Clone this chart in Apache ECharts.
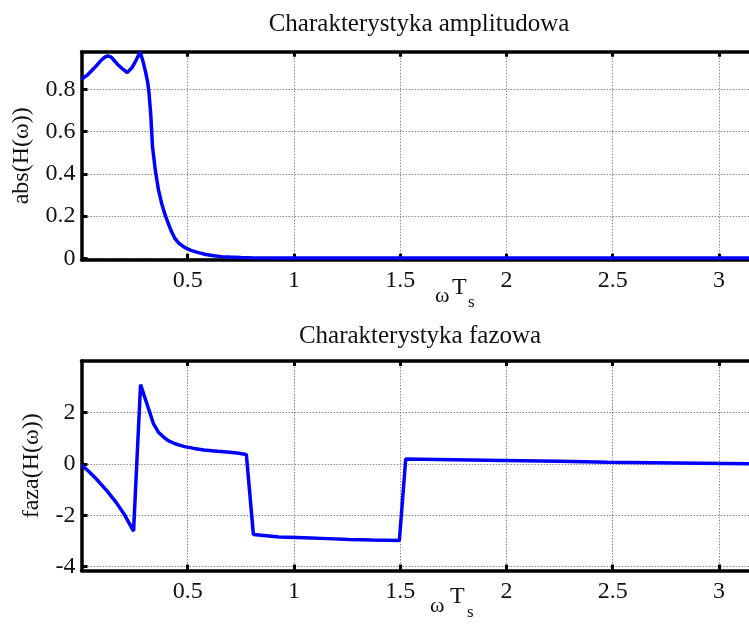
<!DOCTYPE html>
<html><head><meta charset="utf-8">
<script src="https://cdn.jsdelivr.net/npm/echarts@6/dist/echarts.min.js"></script>
<style>html,body{margin:0;padding:0;background:#fff}#c{width:749px;height:626px}</style>
</head><body><div id="c"></div>
<script>
// Amplitude characteristic |H(w)|
const ampW = [0, 0.03, 0.062, 0.09, 0.11, 0.123, 0.14, 0.155, 0.169, 0.195, 0.215, 0.238, 0.258, 0.276, 0.29, 0.302, 0.312, 0.318, 0.326, 0.334, 0.347, 0.362, 0.377, 0.392, 0.408, 0.423, 0.439, 0.46, 0.485, 0.515, 0.546, 0.585, 0.623, 0.66, 0.70, 0.75, 0.8, 0.9, 1.0, 1.2, 1.5, 2.0, 2.5, 3.1416];
const ampV = [0.847, 0.87, 0.903, 0.935, 0.952, 0.958, 0.952, 0.935, 0.919, 0.895, 0.879, 0.903, 0.94, 0.977, 0.93, 0.88, 0.83, 0.78, 0.68, 0.53, 0.42, 0.325, 0.261, 0.21, 0.166, 0.128, 0.095, 0.07, 0.052, 0.038, 0.028, 0.018, 0.012, 0.008, 0.006, 0.004, 0.003, 0.002, 0.002, 0.002, 0.001, 0.001, 0.001, 0.001];
// Phase characteristic
const phW = [0, 0.035, 0.071, 0.12, 0.163, 0.2, 0.245, 0.278, 0.3, 0.32, 0.339, 0.362, 0.385, 0.408, 0.44, 0.485, 0.53, 0.576, 0.64, 0.699, 0.74, 0.776, 0.809, 0.87, 0.929, 1.05, 1.159, 1.26, 1.369, 1.496, 1.526, 1.75, 1.986, 2.25, 2.476, 2.8, 3.1416];
const phV = [-0.05, -0.3, -0.6, -1.05, -1.5, -1.95, -2.62, 3.08, 2.53, 2.03, 1.55, 1.23, 1.05, 0.9, 0.78, 0.67, 0.6, 0.54, 0.49, 0.45, 0.41, 0.36, -2.75, -2.8, -2.85, -2.88, -2.91, -2.94, -2.96, -2.98, 0.19, 0.16, 0.13, 0.1, 0.06, 0.03, 0.0];

const xTicks = [0.5, 1, 1.5, 2, 2.5, 3];
const ampTicks = [0, 0.2, 0.4, 0.6, 0.8];
const phTicks = [-4, -2, 0, 2];
const titles = ['Charakterystyka amplitudowa', 'Charakterystyka fazowa'];
const yNames = ['abs(H(\u03c9))', 'faza(H(\u03c9))'];

const FONT = 'Liberation Serif';
const black = '#000';
const gridStyle = { show: true, lineStyle: { color: '#8a8a8a', width: 1, type: [1.5, 1.5] } };
const lineAxis = { show: true, onZero: false, lineStyle: { color: black, width: 3.5 } };

function xAxisBottom(gi) {
  return {
    type: 'value', gridIndex: gi, min: 0, max: Math.PI, position: 'bottom',
    axisLine: lineAxis,
    axisTick: { show: true, inside: true, length: 6, lineStyle: { color: black, width: 3 }, customValues: xTicks },
    axisLabel: { customValues: xTicks, fontFamily: FONT, fontSize: 24, color: '#111', margin: 9 },
    splitLine: gridStyle
  };
}
function xAxisTop(gi) {
  return {
    type: 'value', gridIndex: gi, min: 0, max: Math.PI, position: 'top',
    axisLine: lineAxis,
    axisTick: { show: true, inside: true, length: 5, lineStyle: { color: black, width: 3 }, customValues: xTicks },
    axisLabel: { show: false },
    splitLine: { show: false }
  };
}
function yAxis(gi, min, max, ticks, name, gap) {
  return {
    type: 'value', gridIndex: gi, min: min, max: max,
    name: name, nameLocation: 'middle', nameGap: gap,
    nameTextStyle: { fontFamily: FONT, fontSize: 24, color: '#111' },
    axisLine: lineAxis,
    axisTick: { show: true, inside: true, length: 6, lineStyle: { color: black, width: 3 }, customValues: ticks },
    axisLabel: { customValues: ticks, fontFamily: FONT, fontSize: 24, color: '#111', margin: 6 },
    splitLine: gridStyle
  };
}

const chart = echarts.init(document.getElementById('c'), null, { renderer: 'canvas' });
chart.setOption({
  animation: false,
  backgroundColor: '#fff',
  grid: [
    { left: 81.5, top: 51.7, width: 683.6, height: 208.1 },
    { left: 81.5, top: 361, width: 683.6, height: 209.5 }
  ],
  xAxis: [xAxisBottom(0), xAxisTop(0), xAxisBottom(1), xAxisTop(1)],
  yAxis: [
    yAxis(0, -0.007, 0.978, ampTicks, yNames[0], 48),
    yAxis(1, -4.15, 4, phTicks, yNames[1], 38)
  ],
  series: [
    { type: 'line', xAxisIndex: 0, yAxisIndex: 0, showSymbol: false, smooth: false,
      lineStyle: { color: '#0000ff', width: 3.5 }, data: ampW.map((w, i) => [w, ampV[i]]) },
    { type: 'line', xAxisIndex: 2, yAxisIndex: 1, showSymbol: false, smooth: false,
      lineStyle: { color: '#0000ff', width: 3.5 }, data: phW.map((w, i) => [w, phV[i]]) }
  ],
  graphic: [
    { type: 'text', x: 419, y: 24.5, style: { text: titles[0], font: '25px "Liberation Serif"', fill: '#111', align: 'center', verticalAlign: 'middle' } },
    { type: 'text', x: 420, y: 336, style: { text: titles[1], font: '25px "Liberation Serif"', fill: '#111', align: 'center', verticalAlign: 'middle' } },
    { type: 'text', x: 435, y: 296, style: { text: '\u03c9', font: '22px "Liberation Serif"', fill: '#111', align: 'left', verticalAlign: 'middle' } },
    { type: 'text', x: 452, y: 288, style: { text: 'T', font: '24px "Liberation Serif"', fill: '#111', align: 'left', verticalAlign: 'middle' } },
    { type: 'text', x: 468, y: 303, style: { text: 's', font: '17px "Liberation Serif"', fill: '#111', align: 'left', verticalAlign: 'middle' } },
    { type: 'text', x: 430, y: 606, style: { text: '\u03c9', font: '22px "Liberation Serif"', fill: '#111', align: 'left', verticalAlign: 'middle' } },
    { type: 'text', x: 450, y: 597, style: { text: 'T', font: '24px "Liberation Serif"', fill: '#111', align: 'left', verticalAlign: 'middle' } },
    { type: 'text', x: 467, y: 613, style: { text: 's', font: '17px "Liberation Serif"', fill: '#111', align: 'left', verticalAlign: 'middle' } }
  ]
});
</script>
</body></html>
